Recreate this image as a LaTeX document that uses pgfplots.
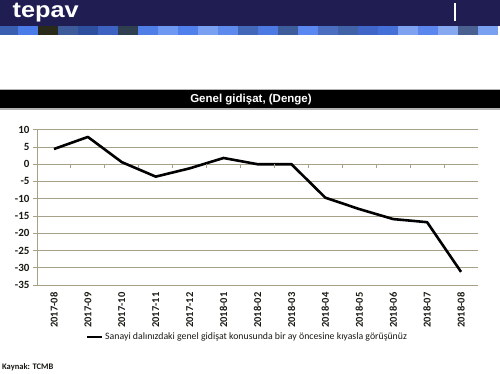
\documentclass[border=0pt]{standalone}
\usepackage{pgfplots}
\pgfplotsset{compat=1.18}
\usepackage{fontspec}
\setmainfont{Carlito}
\newfontfamily\arial{Liberation Sans}
\definecolor{navy}{HTML}{1F1D52}
\definecolor{gridc}{HTML}{A8A18A}
\definecolor{txt}{HTML}{1A1A14}
\begin{document}
\begin{tikzpicture}[x=1pt,y=1pt]
\useasboundingbox (0,0) rectangle (500,374);
\fill[white] (0,0) rectangle (500,374);
\fill[navy] (0,348) rectangle (500,374);
\foreach \c [count=\i from 0] in {3A5FB0,4A7BE8,2A2A1A,3D5A9A,2E4F9E,3E62C2,2F3F4F,4F7FE6,6E98F2,4F80EC,7AA0F2,5E8AEE,4468B8,4D7AE2,3E5C9A,5A88F0,4C6EC0,4262A8,3F66C8,4470D8,7EA2F0,5A86EE,86A8F0,4A6090,7AA0F2}{
  \definecolor{sq}{HTML}{\c}
  \fill[sq] (-2+20*\i,339) rectangle (18+20*\i,348);
}
\node[anchor=base west, text=white, font=\arial\bfseries\fontsize{22}{22}\selectfont, inner sep=0, xscale=1.15] at (12.5,356) {tepav};
\fill[white] (454,353) rectangle (456,371);
\fill[gray!60] (0,264) rectangle (500,285);
\fill[black] (0,265.5) rectangle (500,283.5);
\node[text=white, font=\arial\bfseries\fontsize{11.5}{13}\selectfont, inner sep=0] at (251,274.5) {Genel gidişat, (Denge)};
\begin{axis}[
  at={(37pt,89pt)}, anchor=south west,
  width=441pt, height=155.3pt, scale only axis,
  xmin=-0.5, xmax=12.5, ymin=-35, ymax=10,
  ytick={-35,-30,...,10},
  xtick={0,...,12},
  xticklabels={2017-08,2017-09,2017-10,2017-11,2017-12,2018-01,2018-02,2018-03,2018-04,2018-05,2018-06,2018-07,2018-08},
  axis x line*=bottom, axis y line*=left,
  axis line style={gridc, line width=0.9pt, -},
  ymajorgrids, grid style={gridc, line width=0.9pt},
  x tick style={draw=none},
  y tick style={gridc, line width=0.9pt},
  tick align=outside, major tick length=4pt,
  ytick pos=left,
  /pgf/number format/assume math mode=true,
  tick label style={text=txt, font=\bfseries\fontsize{11}{13}\selectfont},
  x tick label style={rotate=90, anchor=east, font=\bfseries\fontsize{10.5}{12}\selectfont},
  legend style={at={(0.477,-0.335)}, anchor=center, draw=none, fill=none,
    font=\fontsize{9.8}{11}\selectfont, text=txt},
  legend image code/.code={\draw[line width=2.5pt] (0pt,0pt) -- (15pt,0pt);},
]
\addplot[black, line width=2.6pt, line join=round] coordinates {
(0,4.4) (1,7.9) (2,0.6) (3,-3.6) (4,-1.2) (5,1.8) (6,0.0) (7,0.0) (8,-9.7) (9,-13.0) (10,-15.9) (11,-16.8) (12,-31.2)
};
\addlegendentry{Sanayi dalınızdaki genel gidişat konusunda bir ay öncesine kıyasla görüşünüz}
\pgfplotsinvokeforeach{-0.5,0.5,1.5,2.5,3.5,4.5,5.5,6.5,7.5,8.5,9.5,10.5,11.5,12.5}{
  \draw[gridc, line width=0.9pt] (axis cs:#1,0) -- ([yshift=-4pt]axis cs:#1,0);
}
\end{axis}
\node[anchor=west, text=txt, font=\bfseries\fontsize{8.5}{10}\selectfont, inner sep=0] at (2,7) {Kaynak: TCMB};
\end{tikzpicture}
\end{document}
